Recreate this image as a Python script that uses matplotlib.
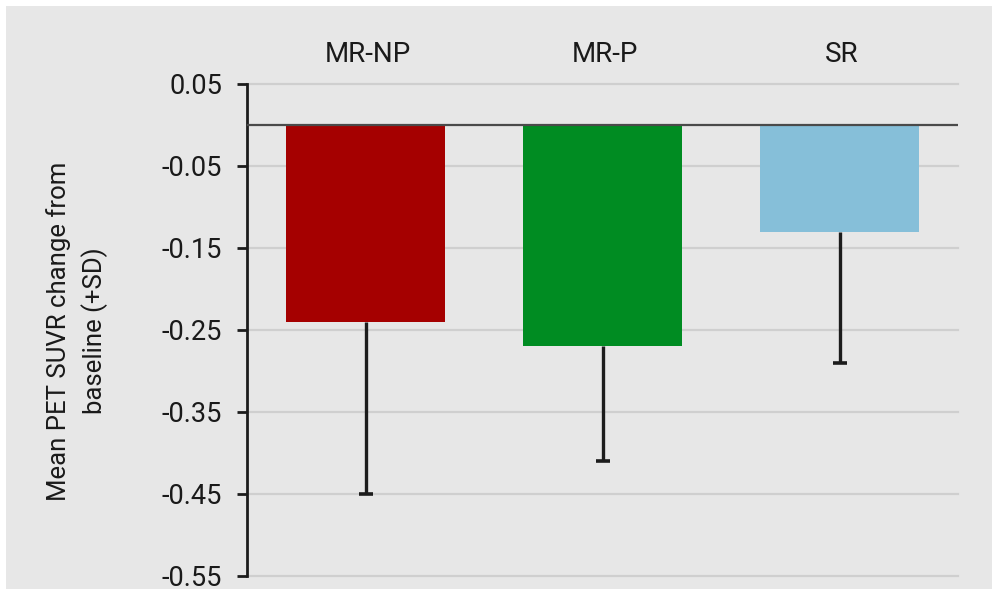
import matplotlib
matplotlib.use("Agg")
import matplotlib.pyplot as plt
from matplotlib.patches import Rectangle

# Data
groups = ["MR-NP", "MR-P", "SR"]
mean_change = [-0.24, -0.27, -0.13]
sd = [0.21, 0.14, 0.16]
bar_colors = ["#a50000", "#008c22", "#86bfd9"]
ytick_values = [0.05, -0.05, -0.15, -0.25, -0.35, -0.45, -0.55]
ytick_labels = ["0.05", "-0.05", "-0.15", "-0.25", "-0.35", "-0.45", "-0.55"]

plt.rcParams["font.family"] = ["Roboto", "DejaVu Sans"]

bg = "#e7e7e7"
ink = "#1c1c1c"
fig = plt.figure(figsize=(9.92, 5.89), dpi=100, facecolor="white")
fig.patches.append(Rectangle((6 / 992, 0), 1, 1 - 6 / 589, transform=fig.transFigure,
                             facecolor=bg, edgecolor="none", zorder=-10))

ax = fig.add_axes([247 / 992, 1 - 576 / 589, (958 - 247) / 992, (576 - 84) / 589])
ax.set_facecolor(bg)

x = list(range(len(groups)))
ax.bar(x, mean_change, width=0.667, color=bar_colors, zorder=2)

# downward SD whiskers with a cap only at the far end
sd_end = [m - s for m, s in zip(mean_change, sd)]
ax.vlines(x, mean_change, sd_end, colors=ink, linewidth=2.4, zorder=3)
ax.plot(x, sd_end, linestyle="none", marker="_", markersize=10,
        markeredgewidth=2.6, color=ink, zorder=3)

ax.set_xlim(-0.5, 2.5)
ax.set_ylim(-0.55, 0.05)
ax.set_yticks(ytick_values)
ax.set_yticklabels(ytick_labels)
ax.set_xticks([])

for yv in ytick_values:
    ax.axhline(yv, color="#cfcfcf", lw=1.6, zorder=1, clip_on=False)
ax.axhline(0, color="#4a4a4a", lw=1.6, zorder=4)

for side in ["top", "right", "bottom"]:
    ax.spines[side].set_visible(False)
ax.spines["left"].set_color(ink)
ax.spines["left"].set_linewidth(2.0)
ax.tick_params(axis="y", direction="out", length=7, width=2.0, color=ink,
               labelsize=19.5, labelcolor="#1a1a1a", pad=11)

for xi, name in zip(x, groups):
    ax.text(xi + 0.01, 1.059, name, transform=ax.get_xaxis_transform(), ha="center",
            va="center", fontsize=20, color="#1a1a1a")

fig.text(77 / 992, 1 - 331 / 589, "Mean PET SUVR change from\nbaseline (+SD)",
         rotation=90, ha="center", va="center", fontsize=18.5, color="#1a1a1a",
         linespacing=1.45)

fig.savefig("out.png", dpi=100, facecolor=fig.get_facecolor())
